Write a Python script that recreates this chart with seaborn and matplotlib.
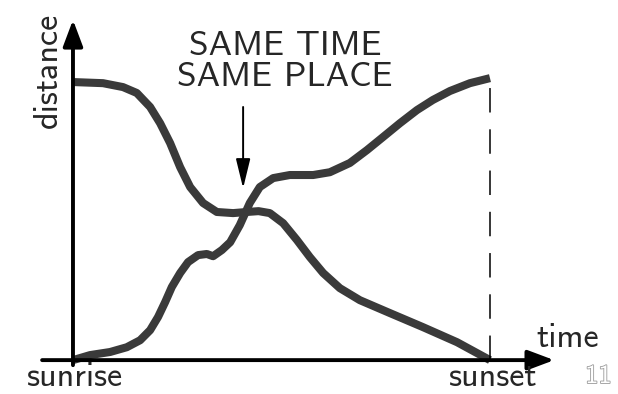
import matplotlib
matplotlib.use("Agg")
import matplotlib.pyplot as plt
import matplotlib.patheffects as pe
import seaborn as sns

# ── data: share of the way up the mountain vs. share of the day ─────────────
# t = 0 at sunrise, 1 at sunset; d = 0 at the foot, 1 at the summit
up_t = [0, 0.041, 0.089, 0.129, 0.161, 0.185, 0.204, 0.221, 0.237, 0.257,
        0.276, 0.300, 0.321, 0.336, 0.357, 0.377, 0.400, 0.424, 0.448, 0.480,
        0.520, 0.576, 0.616, 0.664, 0.705, 0.743, 0.784, 0.825, 0.863, 0.904,
        0.952, 1.0]
up_d = [0, 0.018, 0.029, 0.046, 0.071, 0.107, 0.154, 0.207, 0.261, 0.311,
        0.350, 0.375, 0.379, 0.371, 0.393, 0.421, 0.482, 0.561, 0.618, 0.650,
        0.661, 0.661, 0.671, 0.704, 0.750, 0.796, 0.846, 0.893, 0.929, 0.961,
        0.989, 1.007]

down_t = [0, 0.072, 0.120, 0.153, 0.185, 0.209, 0.233, 0.257, 0.281, 0.312,
          0.345, 0.384, 0.417, 0.445, 0.472, 0.504, 0.537, 0.568, 0.600, 0.640,
          0.688, 0.760, 0.839, 0.921, 1.0]
down_d = [0.993, 0.989, 0.975, 0.954, 0.904, 0.846, 0.775, 0.689, 0.618, 0.561,
          0.529, 0.525, 0.529, 0.532, 0.525, 0.489, 0.429, 0.368, 0.311, 0.257,
          0.214, 0.168, 0.118, 0.064, 0.0]

MEET_T = 0.408
TICK_LABELS = ["sunrise", "sunset"]

INK = "#3a3a3a"

sns.set_theme(style="white")
plt.rcParams["font.family"] = ["cmss10", "DejaVu Sans"]
plt.rcParams["axes.unicode_minus"] = False

fig = plt.figure(figsize=(6.18, 3.94), dpi=100)
ax = fig.add_axes([0, 0, 1, 1])
ax.set_xlim(-0.175, 1.307)
ax.set_ylim(-0.121, 1.286)
ax.axis("off")

# ── the two trips ────────────────────────────────────────────────────────────
for tt, dd in [(up_t, up_d), (down_t, down_d)]:
    sns.lineplot(x=tt, y=dd, sort=False, estimator=None, ax=ax,
                 color=INK, linewidth=5.8, solid_capstyle="butt",
                 solid_joinstyle="round")

# sunset marker
ax.plot([1, 1], [0, 1], color="black", linewidth=1.1,
        linestyle=(0, (16, 11)))

# ── axes with arrow heads ────────────────────────────────────────────────────
head = "-|>,head_length=0.8,head_width=0.3"
ax.annotate("", xy=(1.154, 0), xytext=(-0.074, 0),
            arrowprops=dict(arrowstyle=head, color="black", lw=2.8,
                            mutation_scale=20, shrinkA=0, shrinkB=0))
ax.annotate("", xy=(0, 1.215), xytext=(0, -0.018),
            arrowprops=dict(arrowstyle=head, color="black", lw=2.8,
                            mutation_scale=20, shrinkA=0, shrinkB=0))

ax.text(-0.060, 1.036, "distance", rotation=90, ha="center", va="center",
        fontsize=24.5)
ax.text(1.187, 0.046, "time", ha="center", va="baseline", fontsize=24.5)
ax.text(0.002, -0.119, TICK_LABELS[0], ha="center", va="bottom", fontsize=24.5)
ax.text(1.005, -0.119, TICK_LABELS[1], ha="center", va="bottom", fontsize=24.5)

# ── the meeting point callout ────────────────────────────────────────────────
ax.annotate("", xy=(MEET_T, 0.614), xytext=(MEET_T, 0.904),
            arrowprops=dict(arrowstyle="-|>,head_length=0.9,head_width=0.22",
                            color="black", lw=1.4, mutation_scale=20,
                            shrinkA=0, shrinkB=0))
ax.text(0.508, 1.064, "SAME TIME\nSAME PLACE", ha="center", va="center",
        fontsize=25.4, linespacing=1.02)

# page number
ax.text(1.260, -0.082, "11", ha="center", va="baseline", fontsize=19,
        color="white",
        path_effects=[pe.withStroke(linewidth=1.2, foreground="#9a9a9a")])

fig.savefig("out.png", dpi=100)
